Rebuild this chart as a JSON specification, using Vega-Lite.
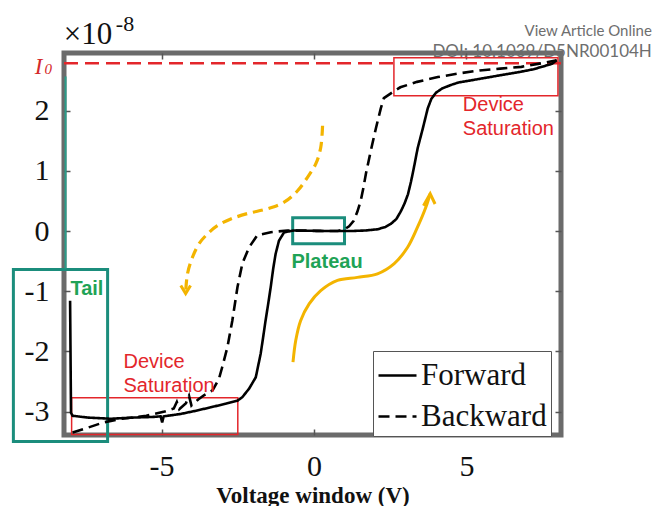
{
  "$schema": "https://vega.github.io/schema/vega-lite/v6.json",
  "width": 497,
  "height": 382,
  "autosize": "none",
  "padding": {"left": 64, "top": 53, "right": 92, "bottom": 71},
  "background": "white",
  "config": {
    "view": {"stroke": "#6b6b6b", "strokeWidth": 5},
    "axis": {"grid": false, "domain": false}
  },
  "datasets": {
    "curves": [
      {"sweep": "Forward", "o": 1, "V": -8.0, "I": -1.16},
      {"sweep": "Forward", "o": 2, "V": -7.97, "I": -3.02},
      {"sweep": "Forward", "o": 3, "V": -7.92, "I": -3.07},
      {"sweep": "Forward", "o": 4, "V": -7.43, "I": -3.1},
      {"sweep": "Forward", "o": 5, "V": -6.67, "I": -3.12},
      {"sweep": "Forward", "o": 6, "V": -5.91, "I": -3.1},
      {"sweep": "Forward", "o": 7, "V": -5.3, "I": -3.09},
      {"sweep": "Forward", "o": 8, "V": -5.03, "I": -3.08},
      {"sweep": "Forward", "o": 9, "V": -4.98, "I": -3.18},
      {"sweep": "Forward", "o": 10, "V": -4.93, "I": -3.08},
      {"sweep": "Forward", "o": 11, "V": -4.37, "I": -3.04},
      {"sweep": "Forward", "o": 12, "V": -3.9, "I": -2.99},
      {"sweep": "Forward", "o": 13, "V": -3.39, "I": -2.93},
      {"sweep": "Forward", "o": 14, "V": -2.9, "I": -2.87},
      {"sweep": "Forward", "o": 15, "V": -2.51, "I": -2.82},
      {"sweep": "Forward", "o": 16, "V": -2.35, "I": -2.76},
      {"sweep": "Forward", "o": 17, "V": -2.13, "I": -2.62},
      {"sweep": "Forward", "o": 18, "V": -1.91, "I": -2.43},
      {"sweep": "Forward", "o": 19, "V": -1.75, "I": -2.04},
      {"sweep": "Forward", "o": 20, "V": -1.67, "I": -1.77},
      {"sweep": "Forward", "o": 21, "V": -1.59, "I": -1.49},
      {"sweep": "Forward", "o": 22, "V": -1.5, "I": -1.2},
      {"sweep": "Forward", "o": 23, "V": -1.42, "I": -0.93},
      {"sweep": "Forward", "o": 24, "V": -1.34, "I": -0.63},
      {"sweep": "Forward", "o": 25, "V": -1.26, "I": -0.38},
      {"sweep": "Forward", "o": 26, "V": -1.15, "I": -0.16},
      {"sweep": "Forward", "o": 27, "V": -0.98, "I": -0.02},
      {"sweep": "Forward", "o": 28, "V": -0.66, "I": 0.01},
      {"sweep": "Forward", "o": 29, "V": 0.5, "I": 0.0},
      {"sweep": "Forward", "o": 30, "V": 1.2, "I": 0.0},
      {"sweep": "Forward", "o": 31, "V": 1.7, "I": 0.01},
      {"sweep": "Forward", "o": 32, "V": 2.09, "I": 0.03},
      {"sweep": "Forward", "o": 33, "V": 2.35, "I": 0.07},
      {"sweep": "Forward", "o": 34, "V": 2.52, "I": 0.12},
      {"sweep": "Forward", "o": 35, "V": 2.7, "I": 0.2},
      {"sweep": "Forward", "o": 36, "V": 2.85, "I": 0.33},
      {"sweep": "Forward", "o": 37, "V": 2.97, "I": 0.46},
      {"sweep": "Forward", "o": 38, "V": 3.08, "I": 0.61},
      {"sweep": "Forward", "o": 39, "V": 3.18, "I": 0.82},
      {"sweep": "Forward", "o": 40, "V": 3.27, "I": 1.04},
      {"sweep": "Forward", "o": 41, "V": 3.4, "I": 1.38},
      {"sweep": "Forward", "o": 42, "V": 3.57, "I": 1.71},
      {"sweep": "Forward", "o": 43, "V": 3.73, "I": 2.04},
      {"sweep": "Forward", "o": 44, "V": 3.85, "I": 2.2},
      {"sweep": "Forward", "o": 45, "V": 4.0, "I": 2.3},
      {"sweep": "Forward", "o": 46, "V": 4.2, "I": 2.37},
      {"sweep": "Forward", "o": 47, "V": 4.5, "I": 2.43},
      {"sweep": "Forward", "o": 48, "V": 4.74, "I": 2.47},
      {"sweep": "Forward", "o": 49, "V": 5.43, "I": 2.53},
      {"sweep": "Forward", "o": 50, "V": 6.11, "I": 2.59},
      {"sweep": "Forward", "o": 51, "V": 6.8, "I": 2.65},
      {"sweep": "Forward", "o": 52, "V": 7.2, "I": 2.69},
      {"sweep": "Forward", "o": 53, "V": 7.47, "I": 2.73},
      {"sweep": "Forward", "o": 54, "V": 7.8, "I": 2.78},
      {"sweep": "Forward", "o": 55, "V": 7.96, "I": 2.84},
      {"sweep": "Backward", "o": 1, "V": -7.92, "I": -3.35},
      {"sweep": "Backward", "o": 2, "V": -7.43, "I": -3.27},
      {"sweep": "Backward", "o": 3, "V": -6.9, "I": -3.18},
      {"sweep": "Backward", "o": 4, "V": -6.3, "I": -3.12},
      {"sweep": "Backward", "o": 5, "V": -5.5, "I": -3.07},
      {"sweep": "Backward", "o": 6, "V": -4.9, "I": -3.0},
      {"sweep": "Backward", "o": 7, "V": -4.6, "I": -2.95},
      {"sweep": "Backward", "o": 8, "V": -4.5, "I": -2.84},
      {"sweep": "Backward", "o": 9, "V": -4.42, "I": -2.96},
      {"sweep": "Backward", "o": 10, "V": -4.2, "I": -2.86},
      {"sweep": "Backward", "o": 11, "V": -4.1, "I": -2.74},
      {"sweep": "Backward", "o": 12, "V": -4.02, "I": -2.9},
      {"sweep": "Backward", "o": 13, "V": -3.8, "I": -2.8},
      {"sweep": "Backward", "o": 14, "V": -3.61, "I": -2.73},
      {"sweep": "Backward", "o": 15, "V": -3.33, "I": -2.65},
      {"sweep": "Backward", "o": 16, "V": -3.12, "I": -2.46},
      {"sweep": "Backward", "o": 17, "V": -3.01, "I": -2.26},
      {"sweep": "Backward", "o": 18, "V": -2.84, "I": -1.93},
      {"sweep": "Backward", "o": 19, "V": -2.68, "I": -1.49},
      {"sweep": "Backward", "o": 20, "V": -2.51, "I": -0.93},
      {"sweep": "Backward", "o": 21, "V": -2.35, "I": -0.54},
      {"sweep": "Backward", "o": 22, "V": -2.13, "I": -0.27},
      {"sweep": "Backward", "o": 23, "V": -1.86, "I": -0.07},
      {"sweep": "Backward", "o": 24, "V": -1.42, "I": -0.02},
      {"sweep": "Backward", "o": 25, "V": -0.87, "I": 0.01},
      {"sweep": "Backward", "o": 26, "V": 0.4, "I": 0.0},
      {"sweep": "Backward", "o": 27, "V": 0.78, "I": 0.0},
      {"sweep": "Backward", "o": 28, "V": 1.0, "I": 0.03},
      {"sweep": "Backward", "o": 29, "V": 1.15, "I": 0.08},
      {"sweep": "Backward", "o": 30, "V": 1.3, "I": 0.17},
      {"sweep": "Backward", "o": 31, "V": 1.42, "I": 0.32},
      {"sweep": "Backward", "o": 32, "V": 1.53, "I": 0.5},
      {"sweep": "Backward", "o": 33, "V": 1.62, "I": 0.72},
      {"sweep": "Backward", "o": 34, "V": 1.7, "I": 0.95},
      {"sweep": "Backward", "o": 35, "V": 1.86, "I": 1.33},
      {"sweep": "Backward", "o": 36, "V": 2.03, "I": 1.71},
      {"sweep": "Backward", "o": 37, "V": 2.19, "I": 2.04},
      {"sweep": "Backward", "o": 38, "V": 2.29, "I": 2.21},
      {"sweep": "Backward", "o": 39, "V": 2.52, "I": 2.29},
      {"sweep": "Backward", "o": 40, "V": 2.83, "I": 2.39},
      {"sweep": "Backward", "o": 41, "V": 3.38, "I": 2.48},
      {"sweep": "Backward", "o": 42, "V": 4.06, "I": 2.56},
      {"sweep": "Backward", "o": 43, "V": 4.74, "I": 2.62},
      {"sweep": "Backward", "o": 44, "V": 5.43, "I": 2.67},
      {"sweep": "Backward", "o": 45, "V": 6.11, "I": 2.7},
      {"sweep": "Backward", "o": 46, "V": 6.8, "I": 2.73},
      {"sweep": "Backward", "o": 47, "V": 7.47, "I": 2.79},
      {"sweep": "Backward", "o": 48, "V": 7.96, "I": 2.84}
    ],
    "redBoxes": [
      {"x1": 2.62, "x2": 8.0, "y1": 2.88, "y2": 2.25},
      {"x1": -7.95, "x2": -2.5, "y1": -2.77, "y2": -3.38}
    ],
    "tealBoxes": [
      {"x1": -9.86, "x2": -6.77, "y1": -0.64, "y2": -3.5},
      {"x1": -0.7, "x2": 1.0, "y1": 0.22, "y2": -0.21}
    ],
    "tealRule": [
      {"V": -8.15, "y1": 2.57, "y2": -0.62}
    ],
    "arrows": [
      {"arrow": "rise", "o": 1, "V": -0.69, "I": -2.18},
      {"arrow": "rise", "o": 2, "V": -0.6, "I": -1.82},
      {"arrow": "rise", "o": 3, "V": -0.44, "I": -1.49},
      {"arrow": "rise", "o": 4, "V": -0.16, "I": -1.21},
      {"arrow": "rise", "o": 5, "V": 0.22, "I": -0.99},
      {"arrow": "rise", "o": 6, "V": 0.77, "I": -0.82},
      {"arrow": "rise", "o": 7, "V": 1.42, "I": -0.77},
      {"arrow": "rise", "o": 8, "V": 2.08, "I": -0.71},
      {"arrow": "rise", "o": 9, "V": 2.63, "I": -0.54},
      {"arrow": "rise", "o": 10, "V": 3.07, "I": -0.27},
      {"arrow": "rise", "o": 11, "V": 3.39, "I": 0.06},
      {"arrow": "rise", "o": 12, "V": 3.67, "I": 0.4},
      {"arrow": "rise", "o": 13, "V": 3.81, "I": 0.62},
      {"arrow": "fall", "o": 1, "V": 0.28, "I": 1.75},
      {"arrow": "fall", "o": 2, "V": 0.22, "I": 1.39},
      {"arrow": "fall", "o": 3, "V": 0.06, "I": 1.12},
      {"arrow": "fall", "o": 4, "V": -0.22, "I": 0.89},
      {"arrow": "fall", "o": 5, "V": -0.54, "I": 0.67},
      {"arrow": "fall", "o": 6, "V": -0.98, "I": 0.48},
      {"arrow": "fall", "o": 7, "V": -1.53, "I": 0.37},
      {"arrow": "fall", "o": 8, "V": -2.19, "I": 0.29},
      {"arrow": "fall", "o": 9, "V": -2.73, "I": 0.2},
      {"arrow": "fall", "o": 10, "V": -3.17, "I": 0.09},
      {"arrow": "fall", "o": 11, "V": -3.5, "I": -0.05},
      {"arrow": "fall", "o": 12, "V": -3.77, "I": -0.21},
      {"arrow": "fall", "o": 13, "V": -3.99, "I": -0.44},
      {"arrow": "fall", "o": 14, "V": -4.15, "I": -0.71},
      {"arrow": "fall", "o": 15, "V": -4.21, "I": -1.02}
    ],
    "heads": [
      {"head": "rise", "o": 1, "V": 3.59, "I": 0.42},
      {"head": "rise", "o": 2, "V": 3.81, "I": 0.62},
      {"head": "rise", "o": 3, "V": 3.97, "I": 0.45},
      {"head": "fall", "o": 1, "V": -4.37, "I": -0.905},
      {"head": "fall", "o": 2, "V": -4.21, "I": -1.04},
      {"head": "fall", "o": 3, "V": -4.05, "I": -0.905}
    ],
    "notes": [
      {"kind": "sat", "text": "Device", "V": 4.88, "I": 2.0},
      {"kind": "sat", "text": "Saturation", "V": 4.88, "I": 1.6},
      {"kind": "sat", "text": "Device", "V": -6.25, "I": -2.28},
      {"kind": "sat", "text": "Saturation", "V": -6.25, "I": -2.68},
      {"kind": "region", "text": "Tail", "V": -7.99, "I": -1.07},
      {"kind": "region", "text": "Plateau", "V": -0.74, "I": -0.61},
      {"kind": "mult", "text": "×10", "V": -8.21, "I": 3.115},
      {"kind": "exp", "text": "-8", "V": -6.5, "I": 3.33},
      {"kind": "io", "text": "I", "V": -9.16, "I": 2.616},
      {"kind": "sub", "text": "0", "V": -8.84, "I": 2.616},
      {"kind": "web1", "text": "View Article Online", "V": 11.08, "I": 3.25},
      {"kind": "web2", "text": "DOI: 10.1039/D5NR00104H", "V": 11.08, "I": 2.9}
    ],
    "ref": [{"I0": 2.79}]
  },
  "resolve": {"axis": {"x": "independent", "y": "independent"}},
  "layer": [
    {
      "data": {"name": "ref"},
      "mark": {"type": "rule", "color": "#e3262b", "strokeWidth": 2.5, "strokeDash": [14, 7]},
      "encoding": {
        "y": {"field": "I0", "type": "quantitative", "scale": {"domain": [-3.39, 2.96], "nice": false, "zero": false}, "axis": null}
      }
    },
    {
      "data": {"name": "redBoxes"},
      "mark": {"type": "rect", "filled": false, "color": "#e3262b", "strokeWidth": 1.5},
      "encoding": {
        "x": {"field": "x1", "type": "quantitative", "scale": {"domain": [-8.2, 8.1], "nice": false, "zero": false},
              "axis": {"orient": "top", "values": [-5, 0, 5], "labels": false, "ticks": true, "tickSize": -6, "tickColor": "#555", "tickWidth": 1.5, "title": null}},
        "x2": {"field": "x2"},
        "y": {"field": "y1", "type": "quantitative", "scale": {"domain": [-3.39, 2.96], "nice": false, "zero": false},
              "axis": {"orient": "right", "values": [-3, -2, -1, 0, 1, 2], "labels": false, "ticks": true, "tickSize": -6, "tickColor": "#555", "tickWidth": 1.5, "title": null}},
        "y2": {"field": "y2"}
      }
    },
    {
      "data": {"name": "tealBoxes"},
      "mark": {"type": "rect", "filled": false, "color": "#1b8d7c", "strokeWidth": 3},
      "encoding": {
        "x": {"field": "x1", "type": "quantitative", "scale": {"domain": [-8.2, 8.1], "nice": false, "zero": false}, "axis": null},
        "x2": {"field": "x2"},
        "y": {"field": "y1", "type": "quantitative", "scale": {"domain": [-3.39, 2.96], "nice": false, "zero": false}, "axis": null},
        "y2": {"field": "y2"}
      }
    },
    {
      "data": {"name": "tealRule"},
      "mark": {"type": "rule", "color": "#2a9d8a", "strokeWidth": 2},
      "encoding": {
        "x": {"field": "V", "type": "quantitative", "scale": {"domain": [-8.2, 8.1], "nice": false, "zero": false}, "axis": null},
        "y": {"field": "y1", "type": "quantitative", "scale": {"domain": [-3.39, 2.96], "nice": false, "zero": false}, "axis": null},
        "y2": {"field": "y2"}
      }
    },
    {
      "data": {"name": "arrows"},
      "transform": [{"filter": "datum.arrow === 'rise'"}],
      "mark": {"type": "line", "color": "#f3b400", "strokeWidth": 3, "interpolate": "catmull-rom"},
      "encoding": {
        "x": {"field": "V", "type": "quantitative", "scale": {"domain": [-8.2, 8.1], "nice": false, "zero": false}, "axis": null},
        "y": {"field": "I", "type": "quantitative", "scale": {"domain": [-3.39, 2.96], "nice": false, "zero": false}, "axis": null},
        "order": {"field": "o", "type": "quantitative"}
      }
    },
    {
      "data": {"name": "arrows"},
      "transform": [{"filter": "datum.arrow === 'fall'"}],
      "mark": {"type": "line", "color": "#f3b400", "strokeWidth": 3.2, "strokeDash": [10, 6], "interpolate": "catmull-rom"},
      "encoding": {
        "x": {"field": "V", "type": "quantitative", "scale": {"domain": [-8.2, 8.1], "nice": false, "zero": false}, "axis": null},
        "y": {"field": "I", "type": "quantitative", "scale": {"domain": [-3.39, 2.96], "nice": false, "zero": false}, "axis": null},
        "order": {"field": "o", "type": "quantitative"}
      }
    },
    {
      "data": {"name": "heads"},
      "mark": {"type": "line", "color": "#f3b400", "strokeWidth": 3},
      "encoding": {
        "x": {"field": "V", "type": "quantitative", "scale": {"domain": [-8.2, 8.1], "nice": false, "zero": false}, "axis": null},
        "y": {"field": "I", "type": "quantitative", "scale": {"domain": [-3.39, 2.96], "nice": false, "zero": false}, "axis": null},
        "detail": {"field": "head", "type": "nominal"},
        "order": {"field": "o", "type": "quantitative"}
      }
    },
    {
      "data": {"name": "curves"},
      "mark": {"type": "line", "color": "black", "strokeWidth": 2.6},
      "encoding": {
        "x": {"field": "V", "type": "quantitative", "scale": {"domain": [-8.2, 8.1], "nice": false, "zero": false},
              "axis": {"orient": "bottom", "values": [-5, 0, 5], "labelExpr": "datum.value < 0 ? '-' + format(-datum.value, 'd') : datum.label",
                       "labelFont": "Liberation Serif", "labelFontSize": 30, "labelColor": "#111", "labelPadding": 22,
                       "tickSize": -6, "tickColor": "#555", "tickWidth": 1.5,
                       "title": "Voltage window (V)", "titleFont": "Liberation Serif", "titleFontSize": 23, "titleFontWeight": "bold",
                       "titleColor": "#111", "titleY": 67, "titleBaseline": "alphabetic"}},
        "y": {"field": "I", "type": "quantitative", "scale": {"domain": [-3.39, 2.96], "nice": false, "zero": false},
              "axis": {"orient": "left", "values": [-3, -2, -1, 0, 1, 2], "labelExpr": "datum.value < 0 ? '-' + format(-datum.value, 'd') : datum.label",
                       "labelFont": "Liberation Serif", "labelFontSize": 30, "labelColor": "#111", "labelPadding": 21,
                       "tickSize": -6, "tickColor": "#555", "tickWidth": 1.5, "title": null}},
        "strokeDash": {"field": "sweep", "type": "nominal",
                       "scale": {"domain": ["Forward", "Backward"], "range": [[1, 0], [11, 6]]},
                       "legend": {"title": null, "orient": "none", "legendX": 309, "legendY": 298,
                                  "symbolType": "stroke", "symbolSize": 1444, "symbolStrokeWidth": 2.5, "symbolStrokeColor": "black",
                                  "labelFont": "Liberation Serif", "labelFontSize": 31, "labelColor": "#111", "labelLimit": 300,
                                  "labelOffset": 3, "strokeColor": "#555", "fillColor": "white", "padding": 4, "rowPadding": 5}},
        "order": {"field": "o", "type": "quantitative"}
      }
    },
    {
      "data": {"name": "notes"},
      "transform": [{"filter": "datum.kind === 'sat'"}],
      "mark": {"type": "text", "align": "left", "baseline": "alphabetic", "font": "Liberation Sans", "fontSize": 20, "color": "#e3262b"},
      "encoding": {
        "x": {"field": "V", "type": "quantitative", "scale": {"domain": [-8.2, 8.1], "nice": false, "zero": false}, "axis": null},
        "y": {"field": "I", "type": "quantitative", "scale": {"domain": [-3.39, 2.96], "nice": false, "zero": false}, "axis": null},
        "text": {"field": "text"}
      }
    },
    {
      "data": {"name": "notes"},
      "transform": [{"filter": "datum.kind === 'region'"}],
      "mark": {"type": "text", "align": "left", "baseline": "alphabetic", "font": "Liberation Sans", "fontSize": 20, "fontWeight": "bold", "color": "#1fa356"},
      "encoding": {
        "x": {"field": "V", "type": "quantitative", "scale": {"domain": [-8.2, 8.1], "nice": false, "zero": false}, "axis": null},
        "y": {"field": "I", "type": "quantitative", "scale": {"domain": [-3.39, 2.96], "nice": false, "zero": false}, "axis": null},
        "text": {"field": "text"}
      }
    },
    {
      "data": {"name": "notes"},
      "transform": [{"filter": "datum.kind === 'mult'"}],
      "mark": {"type": "text", "align": "left", "baseline": "alphabetic", "font": "Liberation Serif", "fontSize": 31, "color": "#111"},
      "encoding": {
        "x": {"field": "V", "type": "quantitative", "scale": {"domain": [-8.2, 8.1], "nice": false, "zero": false}, "axis": null},
        "y": {"field": "I", "type": "quantitative", "scale": {"domain": [-3.39, 2.96], "nice": false, "zero": false}, "axis": null},
        "text": {"field": "text"}
      }
    },
    {
      "data": {"name": "notes"},
      "transform": [{"filter": "datum.kind === 'exp'"}],
      "mark": {"type": "text", "align": "left", "baseline": "alphabetic", "font": "Liberation Serif", "fontSize": 22, "color": "#111"},
      "encoding": {
        "x": {"field": "V", "type": "quantitative", "scale": {"domain": [-8.2, 8.1], "nice": false, "zero": false}, "axis": null},
        "y": {"field": "I", "type": "quantitative", "scale": {"domain": [-3.39, 2.96], "nice": false, "zero": false}, "axis": null},
        "text": {"field": "text"}
      }
    },
    {
      "data": {"name": "notes"},
      "transform": [{"filter": "datum.kind === 'io'"}],
      "mark": {"type": "text", "align": "left", "baseline": "alphabetic", "font": "Liberation Serif", "fontSize": 23, "fontStyle": "italic", "color": "#d42a2a"},
      "encoding": {
        "x": {"field": "V", "type": "quantitative", "scale": {"domain": [-8.2, 8.1], "nice": false, "zero": false}, "axis": null},
        "y": {"field": "I", "type": "quantitative", "scale": {"domain": [-3.39, 2.96], "nice": false, "zero": false}, "axis": null},
        "text": {"field": "text"}
      }
    },
    {
      "data": {"name": "notes"},
      "transform": [{"filter": "datum.kind === 'sub'"}],
      "mark": {"type": "text", "align": "left", "baseline": "alphabetic", "font": "Liberation Serif", "fontSize": 15, "fontStyle": "italic", "color": "#d42a2a"},
      "encoding": {
        "x": {"field": "V", "type": "quantitative", "scale": {"domain": [-8.2, 8.1], "nice": false, "zero": false}, "axis": null},
        "y": {"field": "I", "type": "quantitative", "scale": {"domain": [-3.39, 2.96], "nice": false, "zero": false}, "axis": null},
        "text": {"field": "text"}
      }
    },
    {
      "data": {"name": "notes"},
      "transform": [{"filter": "datum.kind === 'web1'"}],
      "mark": {"type": "text", "align": "right", "baseline": "alphabetic", "font": "Lato", "fontSize": 15, "color": "#6e6e6e"},
      "encoding": {
        "x": {"field": "V", "type": "quantitative", "scale": {"domain": [-8.2, 8.1], "nice": false, "zero": false}, "axis": null},
        "y": {"field": "I", "type": "quantitative", "scale": {"domain": [-3.39, 2.96], "nice": false, "zero": false}, "axis": null},
        "text": {"field": "text"}
      }
    },
    {
      "data": {"name": "notes"},
      "transform": [{"filter": "datum.kind === 'web2'"}],
      "mark": {"type": "text", "align": "right", "baseline": "alphabetic", "font": "Lato", "fontSize": 17, "color": "#6e6e6e"},
      "encoding": {
        "x": {"field": "V", "type": "quantitative", "scale": {"domain": [-8.2, 8.1], "nice": false, "zero": false}, "axis": null},
        "y": {"field": "I", "type": "quantitative", "scale": {"domain": [-3.39, 2.96], "nice": false, "zero": false}, "axis": null},
        "text": {"field": "text"}
      }
    }
  ]
}
